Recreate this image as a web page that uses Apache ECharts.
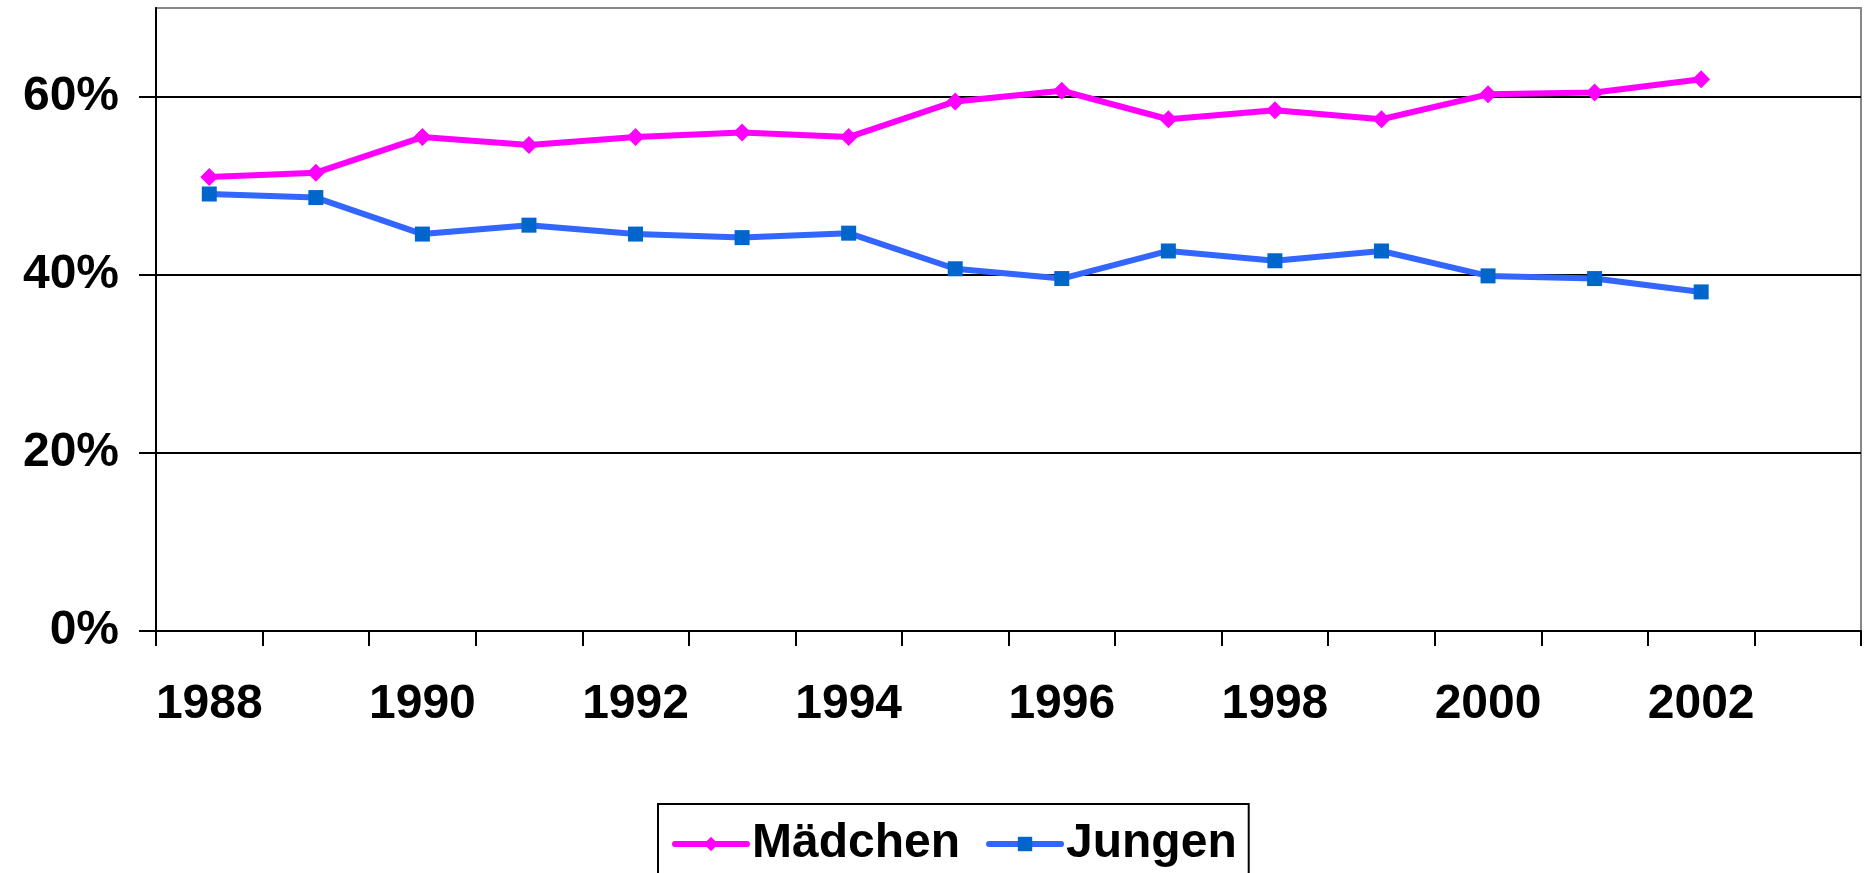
<!DOCTYPE html>
<html>
<head>
<meta charset="utf-8">
<script src="https://cdn.jsdelivr.net/npm/echarts@6/dist/echarts.min.js"></script>
<style>
  html, body { margin: 0; padding: 0; background: #fff; }
  #chart { width: 1866px; height: 873px; }
</style>
</head>
<body>
<div id="chart"></div>
<script>
// Anteil Mädchen / Jungen, 1988–2002 (2003 = leere Kategorie am Rand)
const years = ['1988', '1989', '1990', '1991', '1992', '1993', '1994', '1995',
  '1996', '1997', '1998', '1999', '2000', '2001', '2002', '2003']
const maedchen = [51.0, 51.5, 55.5, 54.6, 55.5, 56.0, 55.5, 59.5, 60.7, 57.5, 58.5, 57.5, 60.3, 60.5, 62.0]
const jungen = [49.1, 48.7, 44.6, 45.6, 44.6, 44.2, 44.7, 40.7, 39.6, 42.7, 41.6, 42.7, 39.9, 39.6, 38.1]
const yTicks = [0, 20, 40, 60]

const font = '"Liberation Sans", Arial, sans-serif'
const chart = echarts.init(document.getElementById('chart'))

chart.setOption({
  animation: false,
  textStyle: { fontFamily: font },
  grid: {
    left: 156,
    right: 5,
    top: 8,
    bottom: 242,
    show: true,
    borderColor: '#888',
    borderWidth: 2
  },
  legend: {
    left: 658,
    top: 804,
    padding: [16, 12, 40, 14],
    itemGap: 26,
    itemWidth: 72,
    itemHeight: 18,
    borderColor: '#000',
    borderWidth: 2,
    textStyle: { fontSize: 48, fontWeight: 'bold', color: '#000', fontFamily: font },
    data: [
      { name: 'Mädchen', lineStyle: { width: 6, cap: 'round' } },
      { name: 'Jungen', lineStyle: { width: 6, cap: 'round' } }
    ]
  },
  xAxis: {
    type: 'category',
    data: years,
    boundaryGap: true,
    axisLine: { lineStyle: { color: '#000', width: 2 } },
    axisTick: { show: true, interval: 0, length: 15, lineStyle: { color: '#000', width: 2 } },
    axisLabel: {
      interval: 1,
      margin: 50,
      fontSize: 48,
      fontWeight: 'bold',
      color: '#000',
      fontFamily: font
    },
    splitLine: { show: false }
  },
  yAxis: {
    type: 'value',
    min: 0,
    max: 70,
    interval: 10,
    axisLine: { show: true, lineStyle: { color: '#000', width: 2 } },
    axisTick: { show: true, length: 17, customValues: yTicks, lineStyle: { color: '#000', width: 2 } },
    axisLabel: {
      customValues: yTicks,
      margin: 37,
      padding: [4, 0, 0, 0],
      fontSize: 48,
      fontWeight: 'bold',
      color: '#000',
      fontFamily: font,
      formatter: (v) => v + '%'
    },
    splitLine: { show: true, lineStyle: { color: '#000', width: 2 } }
  },
  series: [
    {
      name: 'Mädchen',
      type: 'line',
      data: maedchen,
      symbol: 'diamond',
      symbolSize: 18,
      lineStyle: { color: '#ff00ff', width: 6 },
      itemStyle: { color: '#ff00ff' }
    },
    {
      name: 'Jungen',
      type: 'line',
      data: jungen,
      symbol: 'rect',
      symbolSize: 15,
      lineStyle: { color: '#3366ff', width: 6 },
      itemStyle: { color: '#0066cc' }
    }
  ]
})
</script>
</body>
</html>
